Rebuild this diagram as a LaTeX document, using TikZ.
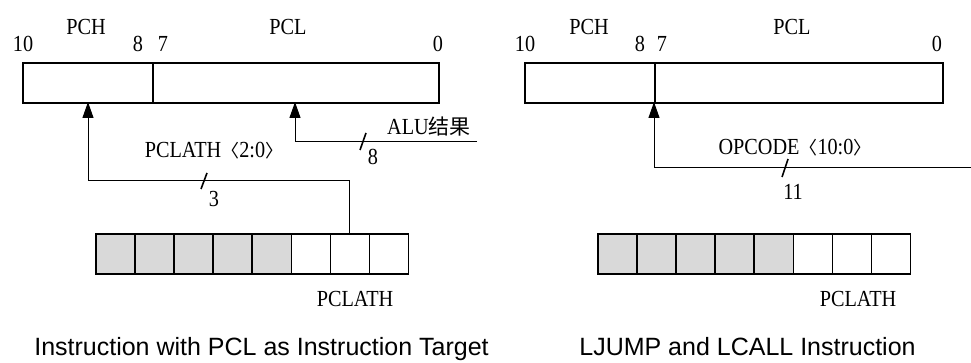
\documentclass[tikz,border=0pt]{standalone}
\usepackage{fontspec}
\setmainfont{Liberation Serif}
\newfontfamily\serifn[FakeStretch=0.88]{Liberation Serif}
\newfontfamily\cjk{Noto Sans CJK SC}
\newfontfamily\capfont{Liberation Sans}
\usetikzlibrary{arrows.meta}
\begin{document}
\begin{tikzpicture}[x=1pt,y=-1pt,
  lbl/.style={font=\serifn\fontsize{23}{25}\selectfont, inner sep=0pt, anchor=base},
  regbox/.style={draw, line width=1.8pt, minimum height=40pt, inner sep=0pt, anchor=north west},
  cellbox/.style={draw, line width=1.6pt, minimum width=39.1pt, minimum height=40pt, inner sep=0pt, anchor=north west},
  gcell/.style={cellbox, fill=gray!30},
  conn/.style={line width=1pt},
  arr/.style={conn, -{Triangle[length=16pt,width=11pt]}},
  slashmark/.style={line width=1.6pt},
  captxt/.style={font=\capfont\fontsize{25}{27}\selectfont, inner sep=0pt, anchor=base}]
\useasboundingbox (0,0) rectangle (971,363);

% ---------- left diagram ----------
\node[regbox, minimum width=130pt] (pchL) at (22,62) {};
\node[regbox, minimum width=286pt] (pclL) at (152,62) {};
\node[lbl] (tpchL) at (86,35) {PCH};
\node[lbl] (tpclL) at (288,35) {PCL};
\node[lbl] (b10L) at (23,52) {10};
\node[lbl] (b8L) at (138,52) {8};
\node[lbl] (b7L) at (163,52) {7};
\node[lbl] (b0L) at (438,52) {0};

\foreach \i in {0,...,4} {\node[gcell] (cL\i) at (95+\i*39.1,233) {};}
\foreach \i in {5,...,7} {\node[cellbox] (cL\i) at (95+\i*39.1,233) {};}
\node[lbl] (tplL) at (355,306) {PCLATH};

\coordinate (pchinL) at (88,102);
\coordinate (bendL) at (88,181);
\draw[arr] (cL6.north) |- (bendL) -- (pchinL);
\draw[slashmark] (201,189) -- (207,173);
\node[lbl] (t3) at (214,207) {3};
\node[lbl] (tpclath) at (214,158) {PCLATH{\cjk\fontsize{18}{20}\selectfont 〈}2:0{\cjk\fontsize{18}{20}\selectfont 〉}};

\coordinate (pclinL) at (295,102);
\coordinate (aluEnd) at (477,141.7);
\draw[arr] (aluEnd) -| (pclinL);
\draw[slashmark] (360,150) -- (366,133);
\node[lbl] (t8) at (373,165) {8};
\node[lbl] (talu) at (429,135) {ALU{\cjk\fontsize{21}{22}\selectfont 结果}};

\node[captxt] (capL) at (261.5,355) {Instruction with PCL as Instruction Target};

% ---------- right diagram ----------
\node[regbox, minimum width=130pt] (pchR) at (524,62) {};
\node[regbox, minimum width=288pt] (pclR) at (654,62) {};
\node[lbl] (tpchR) at (589,35) {PCH};
\node[lbl] (tpclR) at (792,35) {PCL};
\node[lbl] (b10R) at (525,52) {10};
\node[lbl] (b8R) at (640,52) {8};
\node[lbl] (b7R) at (662,52) {7};
\node[lbl] (b0R) at (937,52) {0};

\foreach \i in {0,...,4} {\node[gcell] (cR\i) at (597+\i*39.1,233) {};}
\foreach \i in {5,...,7} {\node[cellbox] (cR\i) at (597+\i*39.1,233) {};}
\node[lbl] (tplR) at (858,306) {PCLATH};

\coordinate (pchinR) at (654,102);
\coordinate (opEnd) at (971,168);
\draw[arr] (opEnd) -| (pchinR);
\draw[slashmark] (782,177) -- (788,159);
\node[lbl] (t11) at (793,200) {11};
\node[lbl] (topcode) at (795,155) {OPCODE{\cjk\fontsize{18}{20}\selectfont 〈}10:0{\cjk\fontsize{18}{20}\selectfont 〉}};

\node[captxt] (capR) at (747.5,355) {LJUMP and LCALL Instruction};
\end{tikzpicture}
\end{document}
